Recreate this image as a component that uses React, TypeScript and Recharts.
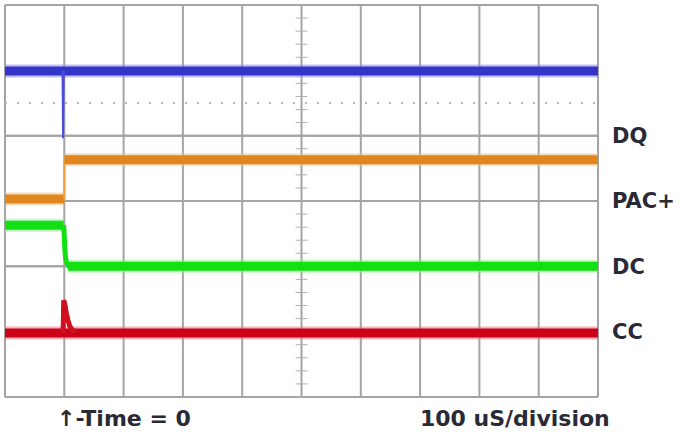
import React from "react";
import { LineChart, Line, XAxis, YAxis, CartesianGrid, ReferenceLine } from "recharts";

// time axis in microseconds (100 uS / division), vertical in divisions
const xGridUs = [-100, 0, 100, 200, 300, 400, 500, 600, 700, 800, 900];
const yGridDiv = [0, 1, 2, 3, 4, 5, 6];
const traceLabels = [
  { name: "DQ", level: 4 },
  { name: "PAC+", level: 3 },
  { name: "DC", level: 2 },
  { name: "CC", level: 1 },
];
const timeLabel = "\u2191-Time = 0";
const scaleLabel = "100 uS/division";

// DQ (blue)
const dqBase = [{ t: -100, v: 4.99 }, { t: 900, v: 4.99 }];
const dqGlitch = [{ t: -3, v: 4.99 }, { t: -2, v: 3.96 }, { t: -1, v: 4.99 }];
// PAC+ (orange)
const pacBefore = [{ t: -100, v: 3.03 }, { t: 0, v: 3.03 }];
const pacEdge = [{ t: 0, v: 3.03 }, { t: 0.5, v: 3.63 }];
const pacAfter = [{ t: 0, v: 3.63 }, { t: 900, v: 3.63 }];
// DC (green)
const dcBefore = [{ t: -100, v: 2.63 }, { t: -1, v: 2.63 }];
const dcFall = [
  { t: -1, v: 2.63 }, { t: 0, v: 2.45 }, { t: 1, v: 2.25 }, { t: 2, v: 2.14 },
  { t: 4, v: 2.06 }, { t: 7, v: 2.01 }, { t: 10, v: 2.0 },
];
const dcAfter = [{ t: 6, v: 2.0 }, { t: 900, v: 2.0 }];
// CC (red)
const ccBase = [{ t: -100, v: 0.98 }, { t: 900, v: 0.98 }];
const ccSpike = [
  { t: -2, v: 0.98 }, { t: -1, v: 1.48 }, { t: 1, v: 1.42 }, { t: 3, v: 1.3 },
  { t: 6, v: 1.18 }, { t: 9, v: 1.09 }, { t: 13, v: 1.03 }, { t: 19, v: 0.99 },
];

const minorTicks: number[] = [];
for (let i = 0; i <= 30; i++) minorTicks.push(i / 5);
const dottedLevel = 4.5;

const gridColor = "#a4a4a4";
const textColor = "#2a2a36";
const font = "'DejaVu Sans', sans-serif";

export default function App() {
  const thick = (key: string, data: any[], color: string, halo: string) => [
    <Line key={key + "h"} data={data} dataKey="v" type="linear" stroke={halo} strokeWidth={13} strokeOpacity={0.55} dot={false} isAnimationActive={false} />,
    <Line key={key} data={data} dataKey="v" type="linear" stroke={color} strokeWidth={9} dot={false} isAnimationActive={false} />,
  ];
  return (
    <div style={{ position: "absolute", left: 0, top: 0, width: 680, height: 437, background: "#fff", fontFamily: font }}>
      <LineChart width={680} height={437} margin={{ top: 5, right: 82, bottom: 40, left: 5 }}>
        <XAxis dataKey="t" type="number" domain={[-100, 900]} ticks={xGridUs} hide allowDataOverflow />
        <YAxis type="number" domain={[0, 6]} ticks={yGridDiv} hide allowDataOverflow />
        <CartesianGrid stroke={gridColor} strokeWidth={2} />
        <ReferenceLine y={dottedLevel} stroke="#b8b8b8" strokeWidth={2} strokeDasharray="2 10" />
        {minorTicks.map((m) => (
          <ReferenceLine key={"mt" + m} segment={[{ x: 390, y: m }, { x: 410, y: m }]} stroke="#b0b0b0" strokeWidth={1} />
        ))}
        {traceLabels.map((l) => (
          <ReferenceLine
            key={l.name}
            y={l.level}
            stroke={gridColor}
            strokeWidth={2}
            label={{ value: l.name, position: "right", offset: 14, fill: textColor, fontSize: 21, fontWeight: "bold", fontFamily: font }}
          />
        ))}
        {thick("dq", dqBase, "#3434c8", "#8c8cf0")}
        <Line data={dqGlitch} dataKey="v" type="linear" stroke="#4a4ae0" strokeWidth={2} dot={false} isAnimationActive={false} />
        {thick("pb", pacBefore, "#e0861f", "#f3c185")}
        <Line data={pacEdge} dataKey="v" type="linear" stroke="#f0a040" strokeWidth={2} dot={false} isAnimationActive={false} />
        {thick("pa", pacAfter, "#e0861f", "#f3c185")}
        {thick("db", dcBefore, "#12e012", "#90f090")}
        <Line data={dcFall} dataKey="v" type="linear" stroke="#12e012" strokeWidth={5} dot={false} isAnimationActive={false} />
        {thick("da", dcAfter, "#12e012", "#90f090")}
        {thick("cc", ccBase, "#cc0016", "#e87a86")}
        <Line data={ccSpike} dataKey="v" type="linear" stroke="#d01020" strokeWidth={5} dot={false} isAnimationActive={false} />
      </LineChart>
      <div style={{ position: "absolute", left: 57, top: 407, fontSize: 22, lineHeight: "24px", fontWeight: "bold", color: textColor, whiteSpace: "nowrap" }}>
        {timeLabel}
      </div>
      <div style={{ position: "absolute", left: 420, top: 407, fontSize: 22, lineHeight: "24px", fontWeight: "bold", color: textColor, whiteSpace: "nowrap" }}>
        {scaleLabel}
      </div>
    </div>
  );
}
